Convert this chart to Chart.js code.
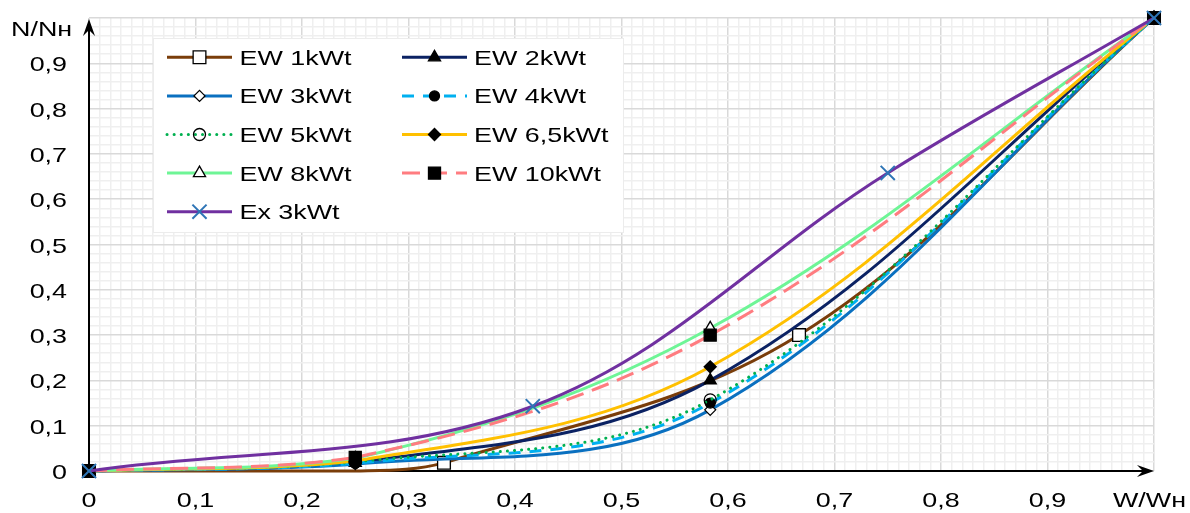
<!DOCTYPE html>
<html>
<head>
<meta charset="utf-8">
<script src="https://cdn.jsdelivr.net/npm/chart.js@4.4.1/dist/chart.umd.min.js"></script>
<style>
  html, body { margin: 0; padding: 0; background: #fff; }
  #wrap { width: 1190px; height: 513px; }
</style>
</head>
<body>
<div id="wrap"><canvas id="c" width="1190" height="513"></canvas></div>
<script>
// x positions of the measured points (W/Wн)
const xEW  = [0, 0.25, 0.5833, 1];
const xEW1 = [0, 0.25, 0.3333, 0.6667, 1];
const xEx  = [0, 0.4167, 0.75, 1];

// N/Nн values
const ew1  = [0, 0, 0.018, 0.3, 1];
const ew2  = [0, 0.018, 0.2, 1];
const ew3  = [0, 0.015, 0.135, 1];
const ew4  = [0, 0.017, 0.15, 1];
const ew5  = [0, 0.02, 0.157, 1];
const ew65 = [0, 0.022, 0.23, 1];
const ew8  = [0, 0.028, 0.315, 1];
const ew10 = [0, 0.03, 0.3, 1];
const ex3  = [0, 0.143, 0.658, 1];

const xTickLabels = ['0', '0,1', '0,2', '0,3', '0,4', '0,5', '0,6', '0,7', '0,8', '0,9'];
const yTickLabels = ['0', '0,1', '0,2', '0,3', '0,4', '0,5', '0,6', '0,7', '0,8', '0,9'];
const xTitle = 'W/Wн';
const yTitle = 'N/Nн';

const pts = (xs, ys) => ys.map((y, i) => ({ x: xs[i], y: y }));

const series = [
  { label: 'EW 1kWt',   data: pts(xEW1, ew1), color: '#7a3d0a', dash: [],      style: 'rect',     r: 9,   fill: '#fff', hide: [1] },
  { label: 'EW 2kWt',   data: pts(xEW, ew2),  color: '#0b2263', dash: [],      style: 'triangle', r: 7,   fill: '#000' },
  { label: 'EW 3kWt',   data: pts(xEW, ew3),  color: '#0a70c0', dash: [],      style: 'rectRot',  r: 5.5, fill: '#fff' },
  { label: 'EW 4kWt',   data: pts(xEW, ew4),  color: '#00b0f0', dash: [12, 9], style: 'circle',   r: 5,   fill: '#000' },
  { label: 'EW 5kWt',   data: pts(xEW, ew5),  color: '#00b050', dash: [0.1, 7], style: 'circle',  r: 6,   fill: 'rgba(0,0,0,0)' },
  { label: 'EW 6,5kWt', data: pts(xEW, ew65), color: '#ffc000', dash: [],      style: 'rectRot',  r: 6,   fill: '#000' },
  { label: 'EW 8kWt',   data: pts(xEW, ew8),  color: '#6ef596', dash: [],      style: 'triangle', r: 7,   fill: '#fff' },
  { label: 'EW 10kWt',  data: pts(xEW, ew10), color: '#ff7c80', dash: [18, 9], style: 'rect',     r: 8.5, fill: '#000' },
  { label: 'Ex 3kWt',   data: pts(xEx, ex3),  color: '#7030a0', dash: [],      style: 'crossRot', r: 10,  fill: '#2e75b6', markerLine: '#2e75b6' }
];

const datasets = series.map((s, i) => ({
  label: s.label,
  data: s.data,
  borderColor: s.color,
  borderWidth: 3,
  borderDash: s.dash,
  borderCapStyle: s.dash.length && s.dash[0] < 1 ? 'round' : 'butt',
  tension: 0.36,
  fill: false,
  clip: false,
  pointStyle: s.style,
  pointRadius: s.hide ? c => (s.hide.includes(c.dataIndex) ? 0 : s.r) : s.r,
  legendRadius: s.r,
  pointBackgroundColor: s.fill,
  pointBorderColor: s.markerLine || '#000',
  pointBorderWidth: s.markerLine ? 2 : 1.3,
  order: series.length - 1 - i
}));

const isMajor = v => Math.abs(v * 10 - Math.round(v * 10)) < 1e-6;
const gridColor = c => isMajor(c.tick.value) ? '#d9d9d9' : '#efefef';

const SX = 1.28;
const FONT = '21px "Liberation Sans", Arial, sans-serif';

function drawText(ctx, str, x, y, align) {
  ctx.save();
  ctx.font = FONT;
  ctx.fillStyle = '#000';
  ctx.textAlign = 'left';
  ctx.textBaseline = 'alphabetic';
  const w = ctx.measureText(str).width * SX;
  let x0 = x;
  if (align === 'right') x0 = x - w;
  if (align === 'center') x0 = x - w / 2;
  ctx.translate(x0, y);
  ctx.scale(SX, 1);
  ctx.fillText(str, 0, 0);
  ctx.restore();
}

function arrow(ctx, x0, y0, x1, y1) {
  const ang = Math.atan2(y1 - y0, x1 - x0);
  const len = 17, hw = 6;
  ctx.beginPath();
  ctx.moveTo(x0, y0);
  ctx.lineTo(x1 - Math.cos(ang) * len * 0.6, y1 - Math.sin(ang) * len * 0.6);
  ctx.stroke();
  ctx.save();
  ctx.translate(x1, y1);
  ctx.rotate(ang);
  ctx.beginPath();
  ctx.moveTo(0, 0);
  ctx.lineTo(-len, -hw);
  ctx.lineTo(-len * 0.65, 0);
  ctx.lineTo(-len, hw);
  ctx.closePath();
  ctx.fill();
  ctx.restore();
}

const axesPlugin = {
  id: 'axesArrows',
  beforeDatasetsDraw(chart) {
    const { ctx, scales: { x, y } } = chart;
    const ox = x.getPixelForValue(0), oy = y.getPixelForValue(0);
    ctx.save();
    ctx.strokeStyle = '#000';
    ctx.fillStyle = '#000';
    ctx.lineWidth = 2;
    arrow(ctx, ox, oy, x.getPixelForValue(1), oy);
    arrow(ctx, ox, oy, ox, y.getPixelForValue(1) + 1);
    ctx.restore();
  },
  afterDraw(chart) {
    const { ctx, scales: { x, y } } = chart;
    // tick labels
    yTickLabels.forEach((t, i) => drawText(ctx, t, 67, y.getPixelForValue(i / 10) + 8, 'right'));
    xTickLabels.forEach((t, i) => drawText(ctx, t, x.getPixelForValue(i / 10), 507, 'center'));
    // axis titles
    drawText(ctx, yTitle, 11, 36, 'left');
    drawText(ctx, xTitle, 1113, 507, 'left');

    // legend
    ctx.save();
    ctx.fillStyle = '#fff';
    ctx.strokeStyle = '#ececec';
    ctx.lineWidth = 1;
    ctx.fillRect(153, 38, 470, 194);
    ctx.strokeRect(153.5, 38.5, 470, 194);
    ctx.restore();
    const cols = [{ x0: 167, x1: 232, tx: 239.5 }, { x0: 402, x1: 467, tx: 474 }];
    series.forEach((s, i) => {
      const col = cols[i % 2];
      const cy = 57.3 + Math.floor(i / 2) * 38.6;
      const ds = datasets[i];
      ctx.save();
      ctx.strokeStyle = ds.borderColor;
      ctx.lineWidth = 3;
      ctx.setLineDash(ds.borderDash);
      ctx.lineCap = ds.borderCapStyle;
      ctx.beginPath();
      ctx.moveTo(col.x0, cy);
      ctx.lineTo(col.x1, cy);
      ctx.stroke();
      ctx.setLineDash([]);
      ctx.fillStyle = ds.pointBackgroundColor;
      ctx.strokeStyle = ds.pointBorderColor;
      ctx.lineWidth = ds.pointBorderWidth;
      Chart.helpers.drawPoint(ctx, { pointStyle: ds.pointStyle, radius: ds.legendRadius, borderWidth: ds.pointBorderWidth, rotation: 0 }, (col.x0 + col.x1) / 2, cy);
      ctx.restore();
      drawText(ctx, s.label, col.tx, cy + 7.5, 'left');
    });
  }
};

new Chart(document.getElementById('c'), {
  type: 'line',
  data: { datasets: datasets },
  options: {
    responsive: false,
    animation: false,
    events: [],
    layout: { padding: { left: 89, right: 36, top: 18, bottom: 42 } },
    plugins: { legend: { display: false }, tooltip: { enabled: false } },
    scales: {
      x: {
        type: 'linear', min: 0, max: 1,
        ticks: { display: false, stepSize: 0.01, autoSkip: false },
        grid: { color: gridColor, lineWidth: 1.5, drawTicks: false },
        border: { display: false }
      },
      y: {
        type: 'linear', min: 0, max: 1,
        ticks: { display: false, stepSize: 0.02, autoSkip: false },
        grid: { color: gridColor, lineWidth: 1.5, drawTicks: false },
        border: { display: false }
      }
    }
  },
  plugins: [axesPlugin]
});
</script>
</body>
</html>
